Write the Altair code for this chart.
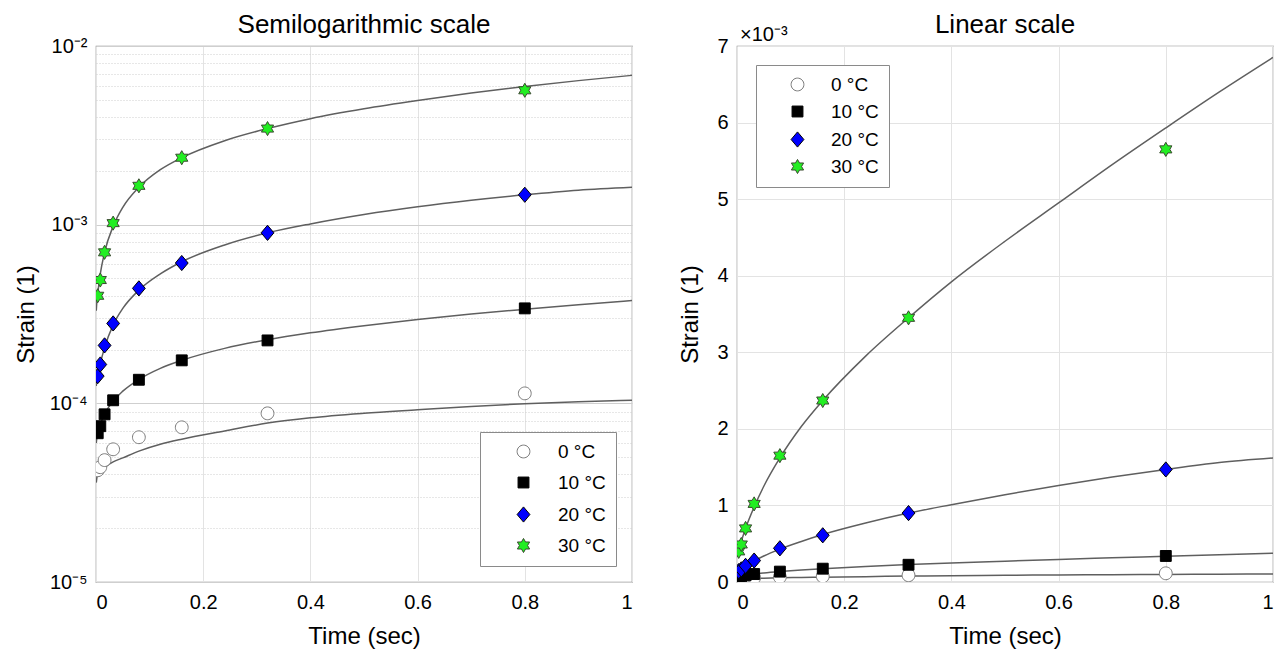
import altair as alt
import pandas as pd

# ---------------- data (strain values in units of 1e-3) ----------------
series = ["0 °C", "10 °C", "20 °C", "30 °C"]
time_pts = [0.0032, 0.008, 0.016, 0.032, 0.08, 0.16, 0.32, 0.8]
strain_0 = [0.0422, 0.0439, 0.0481, 0.0553, 0.0646, 0.0734, 0.0879, 0.1137]
strain_10 = [0.068, 0.0745, 0.0868, 0.104, 0.1355, 0.174, 0.225, 0.34]
strain_20 = [0.142, 0.165, 0.211, 0.28, 0.44, 0.61, 0.90, 1.47]
strain_30 = [0.40, 0.49, 0.70, 1.02, 1.65, 2.37, 3.45, 5.65]

fit_time = [0.0005, 0.001, 0.002, 0.004, 0.008, 0.016, 0.032, 0.05, 0.08, 0.12,
            0.16, 0.24, 0.32, 0.4, 0.5, 0.6, 0.7, 0.8, 0.9, 1.0]
fit_0 = [0.036, 0.037, 0.039, 0.0405, 0.042, 0.0438, 0.047, 0.0495, 0.054, 0.059,
         0.063, 0.070, 0.0775, 0.083, 0.088, 0.092, 0.096, 0.0995, 0.102, 0.104]
fit_10 = [0.060, 0.062, 0.065, 0.069, 0.076, 0.087, 0.103, 0.117, 0.136, 0.157,
          0.174, 0.203, 0.227, 0.248, 0.272, 0.295, 0.316, 0.336, 0.356, 0.376]
fit_20 = [0.125, 0.130, 0.137, 0.148, 0.167, 0.205, 0.275, 0.34, 0.43, 0.53,
          0.62, 0.77, 0.90, 1.01, 1.14, 1.26, 1.37, 1.47, 1.56, 1.62]
fit_30 = [0.33, 0.35, 0.38, 0.43, 0.53, 0.70, 0.98, 1.25, 1.62, 2.03,
          2.37, 2.95, 3.45, 3.92, 4.45, 4.95, 5.45, 5.93, 6.40, 6.85]

x_ticks = [0, 0.2, 0.4, 0.6, 0.8, 1]
lin_ticks = [0, 1, 2, 3, 4, 5, 6, 7]
log_ticks = [k * d for d in (0.01, 0.1, 1) for k in range(1, 10)] + [10]
decade_labels = {10: "10⁻²", 1: "10⁻³", 0.1: "10⁻⁴", 0.01: "10⁻⁵"}

# ---------------- tables ----------------
pts = pd.DataFrame([
    {"series": s, "t": t, "v": v}
    for s, vals in zip(series, [strain_0, strain_10, strain_20, strain_30])
    for t, v in zip(time_pts, vals)
])
fit = pd.DataFrame([
    {"series": s, "t": t, "v": v}
    for s, vals in zip(series, [fit_0, fit_10, fit_20, fit_30])
    for t, v in zip(fit_time, vals)
])

# ---------------- marker styles ----------------
circle_path = "M0.8,0A0.8,0.8 0 1,1 -0.8,0A0.8,0.8 0 1,1 0.8,0Z"
square_path = "M-0.68,-0.68H0.68V0.68H-0.68Z"
diamond_path = "M0,-0.95L0.8,0L0,0.95L-0.8,0Z"
hexagram_path = ("M0,-0.88L0.254,-0.44L0.762,-0.44L0.508,0L0.762,0.44L0.254,0.44"
                 "L0,0.88L-0.254,0.44L-0.762,0.44L-0.508,0L-0.762,-0.44L-0.254,-0.44Z")
shape_range = [circle_path, square_path, diamond_path, hexagram_path]
fill_range = ["#ffffff", "#000000", "#0000ff", "#22ee22"]
stroke_range = ["#7a7a7a", "#000000", "#000000", "#3b4a30"]

FONT = "Liberation Sans"


def make_legend(orient, offset, row_pad, sym_off, lab_off):
    return alt.Legend(
        title=None, orient=orient, offset=offset, fillColor="white",
        strokeColor="#8a8a8a", padding=10, symbolOffset=sym_off, labelOffset=lab_off,
        rowPadding=row_pad, labelFontSize=19, labelFont=FONT, labelColor="black",
        symbolSize=256, symbolStrokeWidth=1,
    )


def panel(log):
    if log:
        yscale = alt.Scale(type="log", domain=[0.01, 10], nice=False)
        test = " || ".join(f"datum.value == {k}" for k in decade_labels)
        lexpr = " : ".join(f"datum.value == {k} ? '{lab}'" for k, lab in decade_labels.items()) + " : ''"
        yaxis = alt.Axis(values=log_ticks, labelExpr=lexpr, title="Strain (1)",
                         gridDash={"condition": {"test": test, "value": []}, "value": [1, 2]},
                         gridColor="#cfcfcf", labelPadding=9, titlePadding=11)
        legend = make_legend("bottom-right", 16, 11, 24, 25)
        ttl = "Semilogarithmic scale"
        toff = -2
    else:
        yscale = alt.Scale(domain=[0, 7], nice=False)
        yaxis = alt.Axis(values=lin_ticks, format="d", title="Strain (1)",
                         labelPadding=9, titlePadding=14)
        legend = make_legend("top-left", 19, 7, 22, 24)
        ttl = "Linear scale"
        toff = -13

    xenc = alt.X("t:Q", scale=alt.Scale(domain=[0, 1], nice=False),
                 axis=alt.Axis(values=x_ticks, format="~g", title="Time (sec)",
                               labelPadding=10, titlePadding=12))
    yenc = alt.Y("v:Q", scale=yscale, axis=yaxis)

    lines = alt.Chart(fit).mark_line(color="#5f5f5f", strokeWidth=1.5, interpolate="monotone",
                                     clip=True).encode(x=xenc, y=yenc, detail="series:N")
    points = alt.Chart(pts).mark_point(filled=True, opacity=1, size=256, strokeWidth=1,
                                       clip=True).encode(
        x=xenc, y=yenc,
        shape=alt.Shape("series:N", scale=alt.Scale(domain=series, range=shape_range), legend=legend),
        fill=alt.Fill("series:N", scale=alt.Scale(domain=series, range=fill_range), legend=legend),
        stroke=alt.Stroke("series:N", scale=alt.Scale(domain=series, range=stroke_range), legend=legend),
    )
    layers = [lines, points]
    if not log:
        note = alt.Chart(pd.DataFrame({"txt": ["×10⁻³"]})).mark_text(
            align="left", baseline="bottom", fontSize=20, font=FONT, color="black"
        ).encode(x=alt.value(3), y=alt.value(-1), text="txt:N")
        layers.append(note)
    return alt.layer(*layers).properties(
        width=536, height=536,
        title=alt.TitleParams(ttl, fontSize=26, fontWeight="normal", font=FONT, color="black", offset=toff),
    )


chart = alt.hconcat(panel(True), panel(False), spacing=45).resolve_scale(
    shape="independent", fill="independent", stroke="independent"
).properties(
    padding={"left": 5, "top": 3, "right": 0, "bottom": 0}
).configure_view(
    stroke="#8a8a8a", strokeWidth=1.2
).configure_axis(
    labelFont=FONT, titleFont=FONT, labelFontSize=20, titleFontSize=24,
    titleFontWeight="normal", labelColor="black", titleColor="black",
    gridColor="#e3e3e3", domain=False, ticks=False,
)

chart.save("out.html", embed_options={"renderer": "svg", "actions": False})
